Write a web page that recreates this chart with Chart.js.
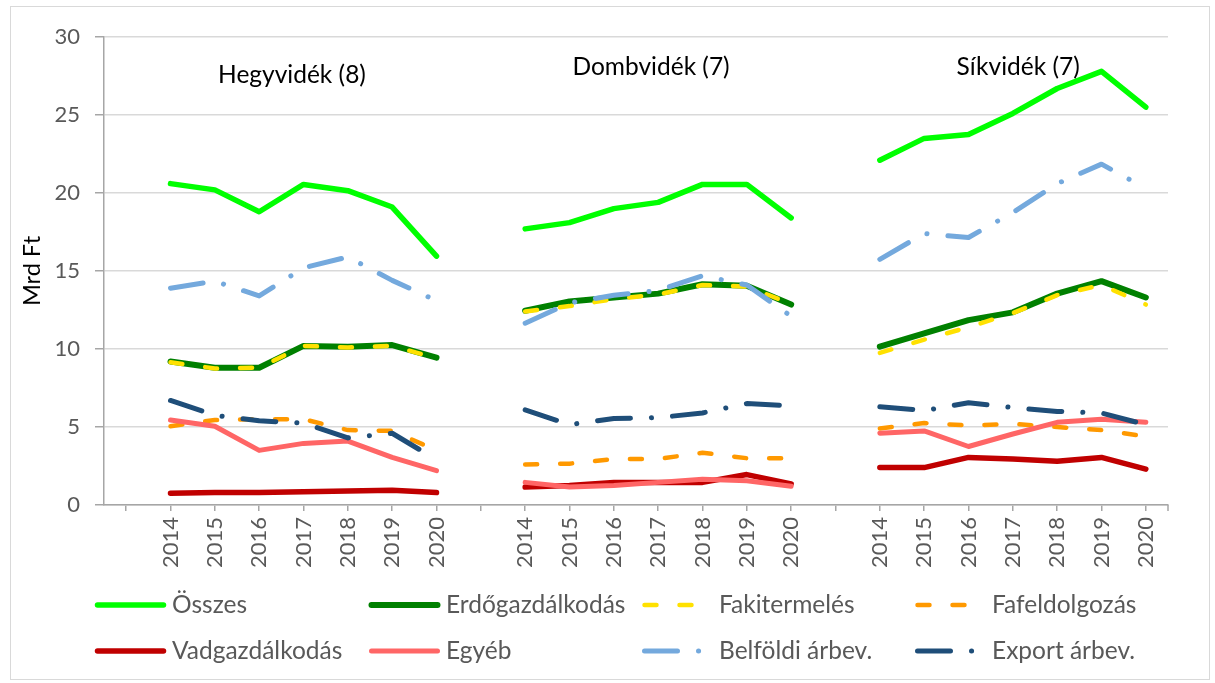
<!DOCTYPE html>
<html><head><meta charset="utf-8">
<script src="https://cdn.jsdelivr.net/npm/chart.js@4.4.0/dist/chart.umd.min.js"></script>
<style>
html,body{margin:0;padding:0;background:#fff;}
#wrap{position:relative;width:1215px;height:683px;}
#frame{position:absolute;left:10px;top:6px;width:1200px;height:674px;border:1px solid #d9d9d9;box-sizing:border-box;pointer-events:none}
canvas{position:absolute;left:0;top:0}
</style></head><body>
<div id="wrap"><canvas id="c" width="1215" height="683"></canvas><div id="frame"></div></div>
<script>
// ---- data ----
const years = ['2014','2015','2016','2017','2018','2019','2020'];
const regions = ['Hegyvidék (8)', 'Dombvidék (7)', 'Síkvidék (7)'];
const yTicks = [0, 5, 10, 15, 20, 25, 30];
const yTitle = 'Mrd Ft';

// each series: Hegyvidék 2014-2020, Dombvidék 2014-2020, Síkvidék 2014-2020
const osszes   = [20.6, 20.2, 18.8, 20.55, 20.15, 19.1, 15.95,  17.7, 18.1, 19.0, 19.4, 20.55, 20.55, 18.4,  22.1, 23.5, 23.75, 25.1, 26.7, 27.8, 25.5];
const erdo     = [9.2, 8.8, 8.8, 10.2, 10.15, 10.25, 9.45,  12.45, 13.05, 13.3, 13.55, 14.15, 14.05, 12.85,  10.15, 11.0, 11.85, 12.35, 13.55, 14.35, 13.3];
const faki     = [9.15, 8.75, 8.8, 10.2, 10.1, 10.2, 9.4,  12.4, 12.75, 13.2, 13.5, 14.1, 14.0, 12.9,  9.75, 10.6, 11.4, 12.3, 13.45, 14.1, 12.85];
const fafeld   = [5.05, 5.45, 5.5, 5.5, 4.8, 4.75, 3.5,  2.6, 2.65, 2.95, 2.95, 3.35, 3.0, 3.0,  4.9, 5.25, 5.1, 5.2, 5.0, 4.8, 4.4];
const vad      = [0.75, 0.8, 0.8, 0.85, 0.9, 0.95, 0.8,  1.15, 1.25, 1.45, 1.45, 1.45, 1.95, 1.35,  2.4, 2.4, 3.05, 2.95, 2.8, 3.05, 2.3];
const egyeb    = [5.45, 5.05, 3.5, 3.95, 4.1, 3.05, 2.2,  1.45, 1.15, 1.25, 1.45, 1.65, 1.55, 1.2,  4.6, 4.75, 3.75, 4.55, 5.3, 5.5, 5.3];
const belfoldi = [13.9, 14.35, 13.4, 15.2, 15.9, 14.4, 13.1,  11.65, 12.95, 13.45, 13.75, 14.7, 14.1, 12.1,  15.75, 17.4, 17.15, 18.75, 20.6, 21.85, 20.3];
const exportA  = [6.7, 5.75, 5.4, 5.25, 4.3, 4.6, 2.9,  6.1, 5.15, 5.55, 5.6, 5.9, 6.5, 6.35,  6.3, 6.05, 6.55, 6.25, 6.0, 5.9, 5.15];

const seriesNames = ['Összes','Erdőgazdálkodás','Fakitermelés','Fafeldolgozás','Vadgazdálkodás','Egyéb','Belföldi árbev.','Export árbev.'];
const seriesData = [osszes, erdo, faki, fafeld, vad, egyeb, belfoldi, exportA];

// ---- build category axis: blank slot before each region ----
const labels = [];
regions.forEach(() => { labels.push(''); years.forEach(y => labels.push(y)); });
function expand(arr) {
  const out = [];
  regions.forEach((r, ri) => { out.push(null); years.forEach((y, yi) => out.push(arr[ri * years.length + yi])); });
  return out;
}

// ---- styles ----
const styles = [
  {c:'#00FF00', w:5.5, d:[]},
  {c:'#008000', w:6, d:[]},
  {c:'#FFE100', w:4.5, d:[12, 23]},
  {c:'#FF9900', w:4.5, d:[12, 23]},
  {c:'#C00000', w:5.5, d:[]},
  {c:'#FF6666', w:5, d:[]},
  {c:'#74A9DD', w:5, d:[33, 21, 0.1, 21]},
  {c:'#1F4E79', w:5, d:[33, 21, 0.1, 21]}
];
const FONT = 'Lato, Carlito, Calibri, sans-serif';

const datasets = seriesNames.map((n, i) => ({
  label: n,
  data: expand(seriesData[i]),
  borderColor: styles[i].c,
  backgroundColor: styles[i].c,
  borderWidth: styles[i].w,
  borderDash: styles[i].d,
  borderCapStyle: 'round',
  borderJoinStyle: 'round',
  pointRadius: 0,
  pointHoverRadius: 0,
  tension: 0,
  spanGaps: false,
  fill: false,
  order: seriesNames.length - i
}));

const regionLabelPos = [ {i: 3.74, v: 27.55}, {i: 11.84, v: 28.1}, {i: 20.12, v: 28.1} ];
const legendCols = [95, 369, 642, 915];
const legendRows = [605, 651];

const extras = {
  id: 'extras',
  afterDraw(chart) {
    const ctx = chart.ctx;
    const xs = chart.scales.x, ys = chart.scales.y;
    // region titles
    ctx.save();
    ctx.fillStyle = '#000';
    ctx.font = '24.5px ' + FONT;
    ctx.textAlign = 'center';
    ctx.textBaseline = 'middle';
    regions.forEach((r, k) => {
      ctx.fillText(r, xs.getPixelForValue(regionLabelPos[k].i), ys.getPixelForValue(regionLabelPos[k].v));
    });
    ctx.restore();
    // end tick of x axis
    ctx.save();
    ctx.strokeStyle = '#a6a6a6'; ctx.lineWidth = 1.5;
    ctx.beginPath();
    ctx.moveTo(chart.chartArea.right, chart.chartArea.bottom);
    ctx.lineTo(chart.chartArea.right, chart.chartArea.bottom + 6);
    ctx.stroke();
    ctx.restore();
    // legend
    chart.data.datasets.forEach((ds, i) => {
      const col = i % 4, row = Math.floor(i / 4);
      const x0 = legendCols[col], y = legendRows[row];
      ctx.save();
      ctx.strokeStyle = ds.borderColor;
      ctx.lineWidth = ds.borderWidth;
      ctx.lineCap = 'round';
      ctx.setLineDash(ds.borderDash || []);
      ctx.beginPath();
      ctx.moveTo(x0 + 2.5, y);
      ctx.lineTo(x0 + 68.5, y);
      ctx.stroke();
      ctx.restore();
      ctx.save();
      ctx.fillStyle = '#595959';
      ctx.font = '24.5px ' + FONT;
      ctx.textAlign = 'left';
      ctx.textBaseline = 'middle';
      ctx.fillText(ds.label, x0 + 77, y);
      ctx.restore();
    });
  }
};

new Chart(document.getElementById('c'), {
  type: 'line',
  data: { labels, datasets },
  options: {
    responsive: false,
    animation: false,
    devicePixelRatio: 1,
    layout: { padding: { left: 0, top: 37, right: 47, bottom: 88 } },
    plugins: { legend: { display: false }, tooltip: { enabled: false } },
    scales: {
      x: {
        type: 'category',
        offset: true,
        afterFit(s) { s.height = 90; },
        grid: { offset: false, drawOnChartArea: false, drawTicks: true, tickLength: 6, color: '#a6a6a6', lineWidth: 1.5 },
        border: { color: '#a6a6a6', width: 1.5 },
        ticks: { autoSkip: false, maxRotation: 90, minRotation: 90, padding: 6, color: '#595959', font: { family: FONT, size: 22 } }
      },
      y: {
        min: 0, max: 30,
        afterFit(s) { s.width = 104; },
        afterBuildTicks(s) { s.ticks = yTicks.map(v => ({ value: v })); },
        grid: { color: '#d9d9d9', lineWidth: 1.5, tickLength: 9, tickColor: '#a6a6a6' },
        border: { color: '#a6a6a6', width: 1.5 },
        ticks: { padding: 15, color: '#595959', font: { family: FONT, size: 22 } },
        title: { display: true, text: yTitle, color: '#000', padding: { top: 18, bottom: 0 }, font: { family: FONT, size: 23.5 } }
      }
    }
  },
  plugins: [extras]
});
</script>
</body></html>
